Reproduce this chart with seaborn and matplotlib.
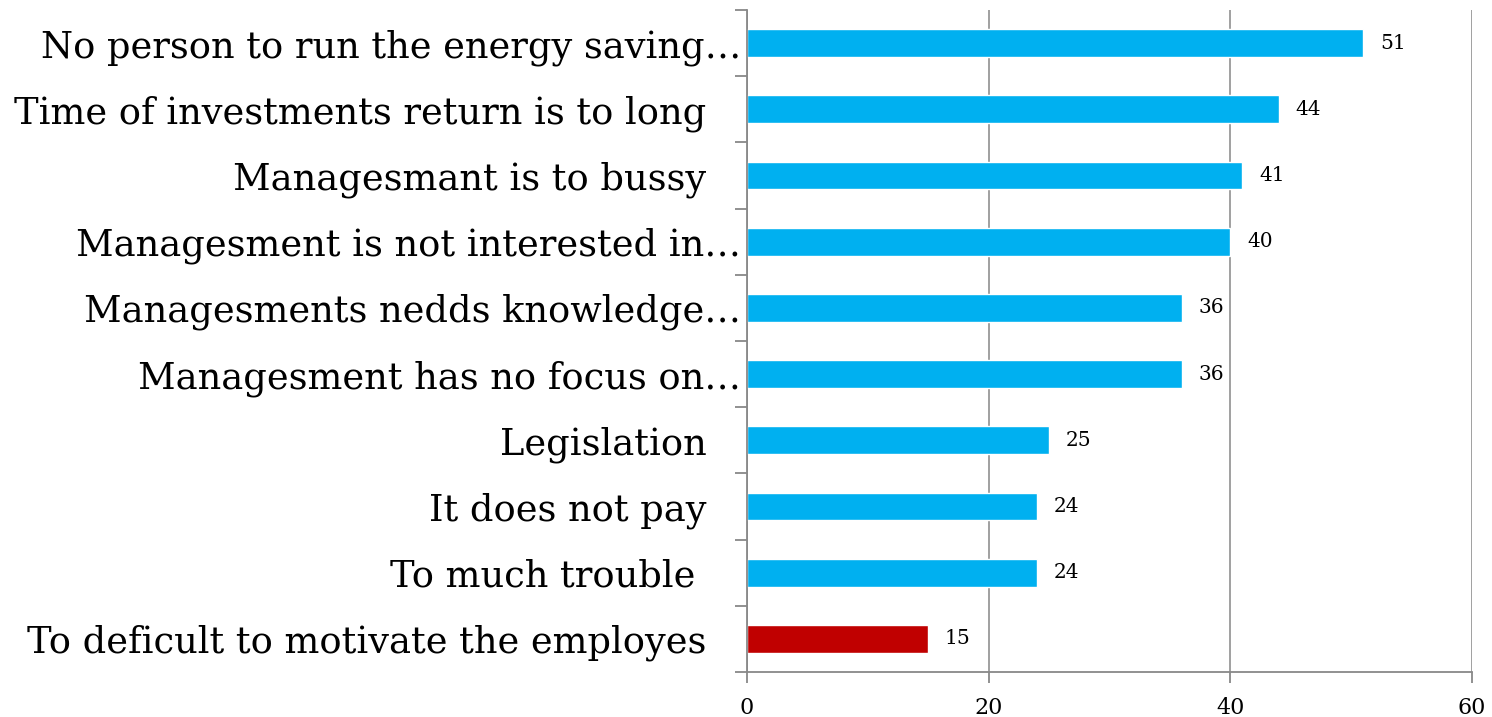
import numpy as np
import pandas as pd
import matplotlib
matplotlib.use("Agg")
import matplotlib.pyplot as plt
import seaborn as sns

# data (top to bottom)
reasons = [
    "No person to run the energy saving…",
    "Time of investments return is to long   ",
    "Managesmant is to bussy   ",
    "Managesment is not interested in…",
    "Managesments nedds knowledge…",
    "Managesment has no focus on…",
    "Legislation   ",
    "It does not pay   ",
    "To much trouble    ",
    "To deficult to motivate the employes   ",
]
counts = [51, 44, 41, 40, 36, 36, 25, 24, 24, 15]
bar_colors = ["#00B0F0"] * 9 + ["#C00000"]

df = pd.DataFrame({"reason": reasons, "count": counts})

sns.set_style("white")
plt.rcParams["font.family"] = ["DejaVu Serif"]
plt.rcParams["text.color"] = "black"
plt.rcParams["xtick.color"] = "black"
plt.rcParams["ytick.color"] = "black"

fig = plt.figure(figsize=(14.92, 7.17), dpi=100)
ax = fig.add_axes([747 / 1492, 45 / 717, 725 / 1492, 662 / 717])

sns.barplot(data=df, y="reason", x="count", hue="reason", palette=bar_colors,
            order=reasons, legend=False, width=0.42, saturation=1, ax=ax)

for c in ax.containers:
    ax.bar_label(c, padding=12, fontsize=14.5, color="black")

ax.set_xlim(0, 60)
ax.set_ylim(len(reasons) - 0.5, -0.5)
ax.set_xticks([0, 20, 40, 60])
ax.set_xlabel("")
ax.set_ylabel("")
ax.xaxis.grid(True, color="#999999", linewidth=1.3)
ax.set_axisbelow(True)

# y ticks at category boundaries
ax.set_yticks(np.arange(-0.5, len(reasons), 1), minor=True)
ax.tick_params(axis="y", which="major", left=True, length=0, pad=4, labelsize=26.5)
ax.tick_params(axis="y", which="minor", left=True, length=9, color="#888888",
               width=1.3, direction="out")
ax.tick_params(axis="x", bottom=True, length=8, color="#888888", width=1.3,
               direction="out", labelsize=16, pad=10)

for s in ["top", "right"]:
    ax.spines[s].set_visible(False)
for s in ["left", "bottom"]:
    ax.spines[s].set_color("#888888")
    ax.spines[s].set_linewidth(1.3)

fig.savefig("out.png", dpi=100)
